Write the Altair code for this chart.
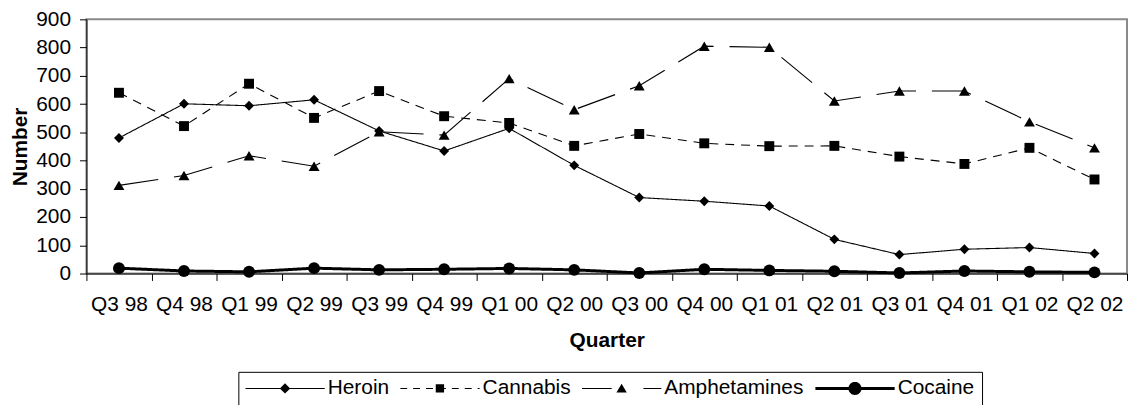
import math
import altair as alt
import pandas as pd

# ---------------- data ----------------
quarters = ["Q3 98", "Q4 98", "Q1 99", "Q2 99", "Q3 99", "Q4 99", "Q1 00", "Q2 00",
            "Q3 00", "Q4 00", "Q1 01", "Q2 01", "Q3 01", "Q4 01", "Q1 02", "Q2 02"]
heroin = [480, 601, 594, 615, 505, 434, 514, 383, 269, 256, 239, 121, 67, 86, 92, 71]
cannabis = [640, 522, 672, 551, 646, 557, 533, 452, 494, 461, 451, 452, 414, 388, 445, 333]
amphetamines = [312, 347, 417, 380, 502, 490, 690, 580, 665, 805, 801, 611, 646, 646, 537, 445]
cocaine = [19, 9, 6, 19, 13, 15, 18, 13, 2, 15, 11, 8, 2, 9, 6, 4]
series = ["Heroin", "Cannabis", "Amphetamines", "Cocaine"]
y_ticks = [0, 100, 200, 300, 400, 500, 600, 700, 800, 900]

values_by_series = {
    "Heroin": heroin,
    "Cannabis": cannabis,
    "Amphetamines": amphetamines,
    "Cocaine": cocaine,
}
rows = []
for name in series:
    for q, v in zip(quarters, values_by_series[name]):
        rows.append({"quarter": q, "drug": name, "value": v})
df = pd.DataFrame(rows)

# ---------------- styles ----------------
FONT = "Liberation Sans"
line_style = {
    "Heroin": dict(strokeWidth=1.1, strokeDash=[1, 0]),
    "Cannabis": dict(strokeWidth=1.1, strokeDash=[9, 7]),
    "Amphetamines": dict(strokeWidth=1.1, strokeDash=[40, 16]),
    "Cocaine": dict(strokeWidth=3, strokeDash=[1, 0]),
}
point_style = {
    "Heroin": dict(shape="diamond", size=100),
    "Cannabis": dict(shape="square", size=100),
    "Amphetamines": dict(shape="triangle-up", size=120),
    "Cocaine": dict(shape="circle", size=144),
}

# legend symbol geometry: unit box -1..1 maps to 80 px (40 px per unit)
UNIT = 40.0


def dashed_bar(dash, gap, half_px):
    """Filled rectangles along -1..1 forming a (dashed) line of given thickness."""
    h = half_px / UNIT
    parts = []
    pos = -UNIT
    while pos < UNIT:
        end = min(pos + dash, UNIT)
        parts.append(f"M{pos / UNIT:.4f},{-h:.4f}H{end / UNIT:.4f}V{h:.4f}H{pos / UNIT:.4f}Z")
        pos = end + gap
    return "".join(parts)


def poly_circle(r, n=24):
    pts = [(r * math.cos(2 * math.pi * k / n), r * math.sin(2 * math.pi * k / n)) for k in range(n)]
    return "M" + "L".join(f"{x:.4f},{y:.4f}" for x, y in pts) + "Z"


legend_paths = [
    dashed_bar(80, 0, 0.55) + "M-0.13,0L0,-0.13L0.13,0L0,0.13Z",
    dashed_bar(7, 6, 0.55) + "M-0.105,-0.105H0.105V0.105H-0.105Z",
    dashed_bar(30, 32, 0.55) + "M0,-0.12L0.13,0.105L-0.13,0.105Z",
    dashed_bar(80, 0, 1.5) + poly_circle(0.165),
]

x_enc = alt.X(
    "quarter:N",
    sort=quarters,
    title="Quarter",
    scale=alt.Scale(type="band", paddingInner=0, paddingOuter=0),
    axis=alt.Axis(
        labelAngle=0,
        labelPadding=13,
        labelOverlap=False,
        tickBand="extent",
        tickSize=7,
        titleY=74,
        titleBaseline="alphabetic",
    ),
)
y_enc = alt.Y(
    "value:Q",
    title="Number",
    scale=alt.Scale(domain=[0, 900], nice=False, zero=True),
    axis=alt.Axis(
        values=y_ticks,
        tickSize=7,
        labelPadding=9,
        titleAngle=270,
        titleX=-60,
        titleY=128,
        titleAlign="center",
        titleBaseline="alphabetic",
    ),
)

base = alt.Chart(df).encode(x=x_enc, y=y_enc)

layers = []
for name in series:
    sub = base.transform_filter(alt.datum.drug == name)
    layers.append(sub.mark_line(color="black", **line_style[name]))
for name in series:
    sub = base.transform_filter(alt.datum.drug == name)
    layers.append(sub.mark_point(filled=True, color="black", opacity=1, **point_style[name]))

leg = alt.Legend(
    orient="none",
    direction="horizontal",
    legendX=153,
    legendY=355,
    symbolSize=6400,
    clipHeight=19,
    padding=7,
    strokeColor="black",
    labelFont=FONT,
    labelFontSize=21,
    labelColor="black",
    labelOffset=3,
    columnPadding=11,
    symbolStrokeWidth=0,
    symbolFillColor="black",
)

legend_layer = (
    alt.Chart(df)
    .transform_filter("false")
    .mark_point(filled=True, color="black", opacity=1)
    .encode(
        shape=alt.Shape("drug:N", title=None,
                        scale=alt.Scale(domain=series, range=legend_paths), legend=leg),
    )
)

chart = (
    alt.layer(*layers, legend_layer)
    .properties(
        width=1048,
        height=256,
        autosize=alt.AutoSizeParams(type="none"),
        padding={"left": 79, "top": 10, "right": 1, "bottom": 131},
        background="white",
    )
    .configure(font=FONT)
    .configure_view(stroke="#8a8a8a", strokeWidth=2)
    .configure_axis(
        grid=False,
        domainColor="black",
        domainWidth=1,
        tickColor="black",
        tickWidth=1,
        labelColor="black",
        labelFont=FONT,
        labelFontSize=21,
        titleColor="black",
        titleFont=FONT,
        titleFontSize=21,
        titleFontWeight="bold",
    )
)

chart.save("out.html", embed_options={"renderer": "svg", "actions": False})
